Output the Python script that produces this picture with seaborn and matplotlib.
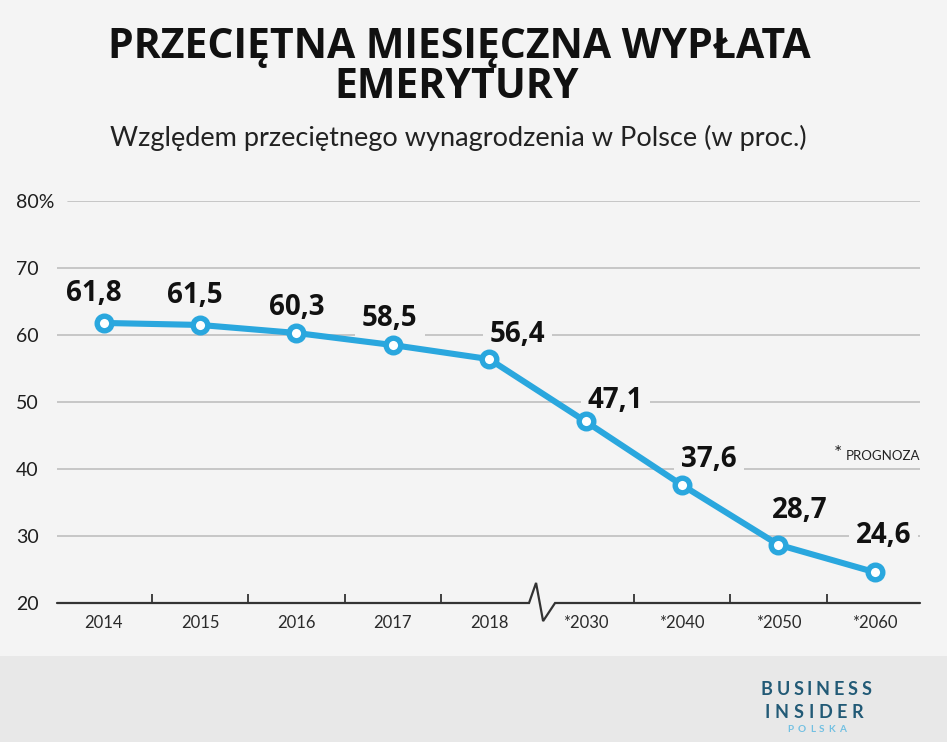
import numpy as np
import matplotlib
matplotlib.use("Agg")
import matplotlib.pyplot as plt
from matplotlib.patches import Rectangle
import seaborn as sns

# ---------------- data ----------------
years = ['2014', '2015', '2016', '2017', '2018', '*2030', '*2040', '*2050', '*2060']
values = [61.8, 61.5, 60.3, 58.5, 56.4, 47.1, 37.6, 28.7, 24.6]
y_ticks = [20, 30, 40, 50, 60, 70, 80]
y_tick_labels = ['20', '30', '40', '50', '60', '70', '80%']
title_lines = ['PRZECIĘTNA MIESIĘCZNA WYPŁATA', 'EMERYTURY']
subtitle = 'Względem przeciętnego wynagrodzenia w Polsce (w proc.)'
note = 'PROGNOZA'
brand = ['BUSINESS', 'INSIDER', 'POLSKA']
break_after = 4  # axis break between '2018' and '*2030'

# ---------------- style ----------------
W, H = 947, 742
BG = '#f4f4f4'
FOOT = '#e8e8e8'
BLUE = '#2aa7de'
GRID = '#bfbfbf'
AX = '#333333'
# label offsets in pixels (dx, dy) relative to the point
label_offsets = [(-10, 29), (-5, 29), (0, 25), (-3, 27), (28, 25),
                 (30, 21), (27, 26), (21, 34), (9, 37)]

sns.set_theme(style='white')
plt.rcParams['font.family'] = ['Lato', 'DejaVu Sans']

fig = plt.figure(figsize=(W / 100, H / 100), dpi=100, facecolor=BG)


def fx(x):
    return x / W


def fy(y):
    return 1 - y / H


# footer band
fig.add_artist(Rectangle((0, 0), 1, 86 / H, transform=fig.transFigure,
                         facecolor=FOOT, edgecolor='none', zorder=0))

AX_L, AX_R = 57, 920
ax = fig.add_axes([fx(AX_L), (H - 603) / H, (AX_R - AX_L) / W, 402 / H])
ax.set_facecolor(BG)

pos = np.arange(len(years))
x_left, x_right = -0.485, 8.47

# grid (top line starts after the '%' sign)
for yv in y_ticks[1:]:
    xmin = (68 - AX_L) / (AX_R - AX_L) if yv == y_ticks[-1] else 0
    ax.axhline(yv, xmin=xmin, color=GRID, lw=1.2, zorder=1)

sns.lineplot(x=pos, y=values, ax=ax, color=BLUE, lw=4.4, sort=False,
             marker='o', markersize=10.5, markerfacecolor='white',
             markeredgecolor=BLUE, markeredgewidth=3.9, zorder=5,
             clip_on=False)

# value labels
for xi, v, (dx, dy) in zip(pos, values, label_offsets):
    ax.annotate(f'{v:.1f}'.replace('.', ','), xy=(xi, v), xytext=(dx, dy),
                textcoords='offset pixels', ha='center', va='center',
                fontsize=20, fontweight='bold', color='#111111',
                family=['Open Sans', 'DejaVu Sans'], zorder=3,
                bbox=dict(boxstyle='square,pad=0.25', facecolor=BG,
                          edgecolor='none'))

ax.set_xlim(x_left, x_right)
ax.set_ylim(20, 80)

# axis line with break zig-zag
bx = break_after + 0.5
zig_x = [x_left, bx - 0.087, bx - 0.014, bx + 0.059, bx + 0.183, x_right]
zig_y = [20, 20, 23.0, 17.3, 20, 20]
ax.plot(zig_x, zig_y, color=AX, lw=1.6, clip_on=False, zorder=6,
        solid_joinstyle='miter')

for s in ax.spines.values():
    s.set_visible(False)

ax.set_xticks(pos)
ax.set_xticklabels(years)
minor = [p + 0.5 for p in pos[:-1] if p != break_after]
ax.set_xticks(minor, minor=True)
ax.tick_params(axis='x', which='major', length=0, pad=9, labelsize=12,
               labelcolor='#2a2a2a')
ax.tick_params(axis='x', which='minor', direction='in', length=6.5,
               width=1.3, color=AX, bottom=True)

ax.set_yticks(y_ticks)
ax.set_yticklabels(y_tick_labels)
ax.tick_params(axis='y', length=0, pad=29.5, labelsize=14,
               labelcolor='#1e1e1e')
for t in ax.get_yticklabels():
    t.set_horizontalalignment('left')
    t.set_fontweight('normal')
ax.set_xlabel('')
ax.set_ylabel('')
ax.grid(False)

# titles
fig.text(fx(459), fy(58), title_lines[0], ha='center', va='baseline',
         fontsize=29.5, fontweight='bold', color='#111111',
         family=['Open Sans', 'DejaVu Sans'])
fig.text(fx(457), fy(98), title_lines[1], ha='center', va='baseline',
         fontsize=29.5, fontweight='bold', color='#111111',
         family=['Open Sans', 'DejaVu Sans'])
fig.text(fx(458), fy(146), subtitle, ha='center', va='baseline',
         fontsize=19.5, color='#222222')

# forecast note
fig.text(fx(838), fy(459), '*', ha='center', va='baseline', fontsize=14,
         color='#222222')
fig.text(fx(846), fy(460), note, ha='left', va='baseline', fontsize=9.5,
         color='#222222')

# brand footer with letter spacing, each line centred
renderer = fig.canvas.get_renderer()


def spaced(xc, ybase, s, size, color, spacing, weight='bold'):
    texts = [fig.text(0, fy(ybase), ch, ha='left', va='baseline',
                      fontsize=size, fontweight=weight, color=color)
             for ch in s]
    widths = [t.get_window_extent(renderer).width for t in texts]
    total = sum(widths) + spacing * (len(s) - 1)
    x = xc - total / 2
    for t, w in zip(texts, widths):
        t.set_x(fx(x))
        x += w + spacing


spaced(816, 695, brand[0], 13, '#225a76', 3.6)
spaced(814, 718, brand[1], 13, '#225a76', 4.6)
spaced(817, 732, brand[2], 7.2, '#72c0e2', 4.0)

fig.savefig('out.png', dpi=100, facecolor=BG)
